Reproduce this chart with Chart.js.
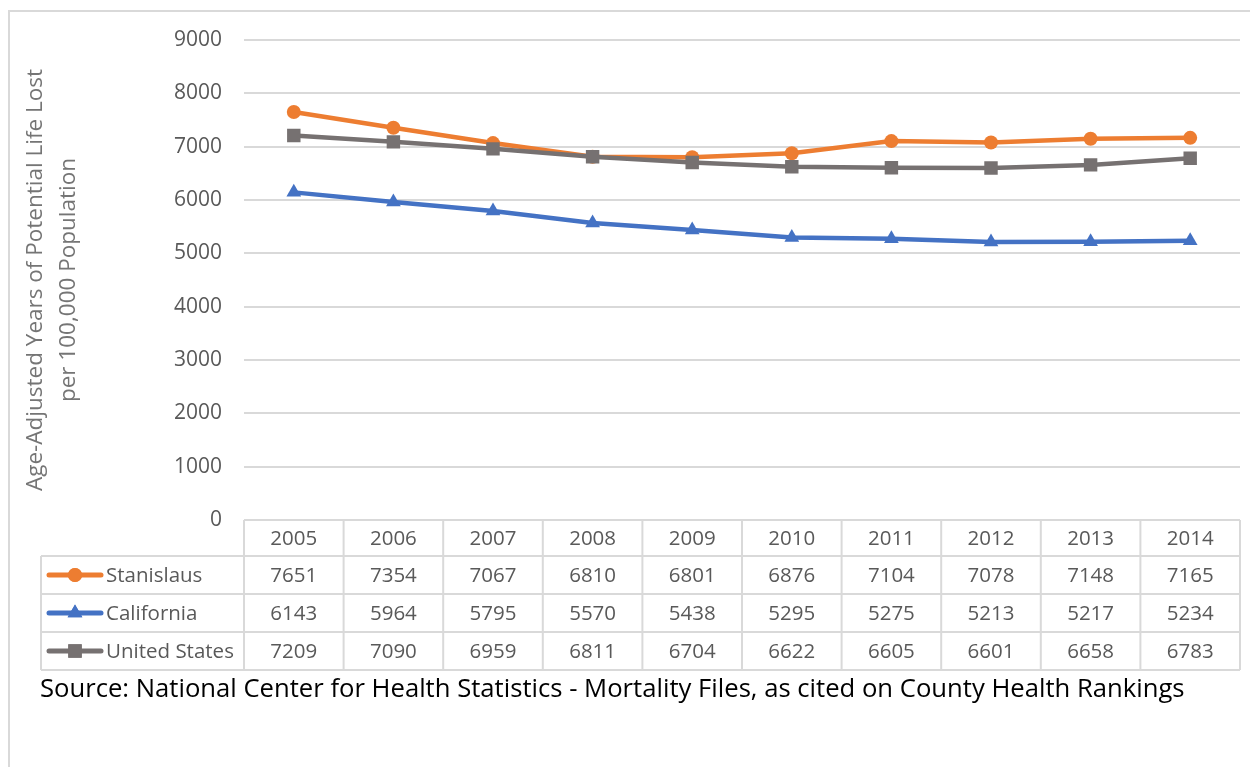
<!DOCTYPE html>
<html>
<head>
<meta charset="utf-8">
<script src="https://cdn.jsdelivr.net/npm/chart.js@4"></script>
<style>
  html, body { margin: 0; padding: 0; background: #fff; }
  #wrap { width: 1250px; height: 767px; position: relative; }
</style>
</head>
<body>
<div id="wrap"><canvas id="graph" width="1250" height="767"></canvas></div>
<script>
// データ
const years = ["2005", "2006", "2007", "2008", "2009", "2010", "2011", "2012", "2013", "2014"];
const stanislaus = [7651, 7354, 7067, 6810, 6801, 6876, 7104, 7078, 7148, 7165];
const california = [6143, 5964, 5795, 5570, 5438, 5295, 5275, 5213, 5217, 5234];
const unitedStates = [7209, 7090, 6959, 6811, 6704, 6622, 6605, 6601, 6658, 6783];
const yTicks = [0, 1000, 2000, 3000, 4000, 5000, 6000, 7000, 8000, 9000];
const yTitle = ["Age-Adjusted Years of Potential Life Lost", "per 100,000 Population"];
const sourceText = "Source: National Center for Health Statistics - Mortality Files, as cited on County Health Rankings";

const FONT = "'Open Sans', 'Noto Sans', sans-serif";
const GRID = "#d9d9d9";
const TEXT = "#595959";

const series = [
  { label: "Stanislaus", data: stanislaus, color: "#ed7d31", style: "circle", radius: 7, order: 2 },
  { label: "California", data: california, color: "#4472c4", style: "triangle", radius: 8.5, order: 1 },
  { label: "United States", data: unitedStates, color: "#767171", style: "rect", radius: 9.5, order: 0 },
];

// 表・凡例・出典を描くプラグイン
const tablePlugin = {
  id: "dataTable",
  afterDraw(chart) {
    const ctx = chart.ctx;
    const x = chart.scales.x;
    const colW = x.width / years.length;
    const top = chart.chartArea.bottom;
    const rows = [top, 556, 594, 632, 670];
    const leftX = 41;

    ctx.save();
    // 外枠
    ctx.strokeStyle = GRID;
    ctx.lineWidth = 2;
    ctx.strokeRect(9, 11, 1260, 800);

    // 表の罫線
    ctx.beginPath();
    ctx.moveTo(x.left, rows[0]);
    ctx.lineTo(x.right, rows[0]);
    for (let r = 1; r < rows.length; r++) {
      ctx.moveTo(leftX, rows[r]);
      ctx.lineTo(x.right, rows[r]);
    }
    for (let c = 0; c <= years.length; c++) {
      const cx = x.left + c * colW;
      ctx.moveTo(cx, rows[0]);
      ctx.lineTo(cx, rows[4]);
    }
    ctx.moveTo(leftX, rows[1]);
    ctx.lineTo(leftX, rows[4]);
    ctx.stroke();

    // 数値
    ctx.fillStyle = TEXT;
    ctx.font = "20.5px " + FONT;
    ctx.textAlign = "center";
    ctx.textBaseline = "middle";
    years.forEach((y, i) => {
      const cx = x.getPixelForValue(i);
      ctx.fillText(y, cx, (rows[0] + rows[1]) / 2 + 1);
      series.forEach((s, j) => {
        ctx.fillText(String(s.data[i]), cx, (rows[j + 1] + rows[j + 2]) / 2 + 1);
      });
    });

    // 凡例キー
    series.forEach((s, j) => {
      const cy = (rows[j + 1] + rows[j + 2]) / 2;
      ctx.strokeStyle = s.color;
      ctx.lineWidth = 5;
      ctx.lineCap = "round";
      ctx.beginPath();
      ctx.moveTo(49, cy);
      ctx.lineTo(101, cy);
      ctx.stroke();
      ctx.fillStyle = s.color;
      Chart.helpers.drawPoint(ctx, { pointStyle: s.style, radius: s.radius, borderWidth: 0 }, 75, cy);
      ctx.fill();
      ctx.fillStyle = TEXT;
      ctx.textAlign = "left";
      ctx.fillText(s.label, 106, cy + 1);
    });

    // 出典
    ctx.fillStyle = "#000";
    let size = 22;
    ctx.font = size + "px " + FONT;
    const w = ctx.measureText(sourceText).width;
    size = size * 1145 / w;
    ctx.font = size.toFixed(2) + "px " + FONT;
    ctx.textAlign = "left";
    ctx.fillText(sourceText, 40, 690);
    ctx.restore();
  },
};

new Chart(document.getElementById("graph"), {
  type: "line",
  data: {
    labels: years,
    datasets: series.map((s) => ({
      label: s.label,
      data: s.data,
      borderColor: s.color,
      backgroundColor: s.color,
      borderWidth: 4.5,
      pointStyle: s.style,
      pointRadius: s.radius,
      pointBorderWidth: 0,
      pointBackgroundColor: s.color,
      order: s.order,
      tension: 0,
    })),
  },
  options: {
    responsive: false,
    animation: false,
    layout: { padding: { left: 18, top: 40, right: 10, bottom: 247 } },
    plugins: { legend: { display: false }, tooltip: { enabled: false } },
    scales: {
      x: { type: "category", offset: true, display: false },
      y: {
        min: 0,
        max: 9000,
        afterBuildTicks(scale) {
          scale.ticks = yTicks.map((v) => ({ value: v }));
        },
        afterFit(scale) {
          scale.width = 244 - 18;
        },
        grid: { color: GRID, lineWidth: 2, drawTicks: false },
        border: { display: false },
        ticks: {
          color: TEXT,
          font: { family: FONT, size: 21 },
          padding: 22,
          callback: (v) => String(v),
        },
        title: {
          display: true,
          text: yTitle,
          color: "#757575",
          font: { family: FONT, size: 22.5, lineHeight: 1.47 },
          padding: { top: 1, bottom: 0 },
        },
      },
    },
  },
  plugins: [tablePlugin],
});
</script>
</body>
</html>
